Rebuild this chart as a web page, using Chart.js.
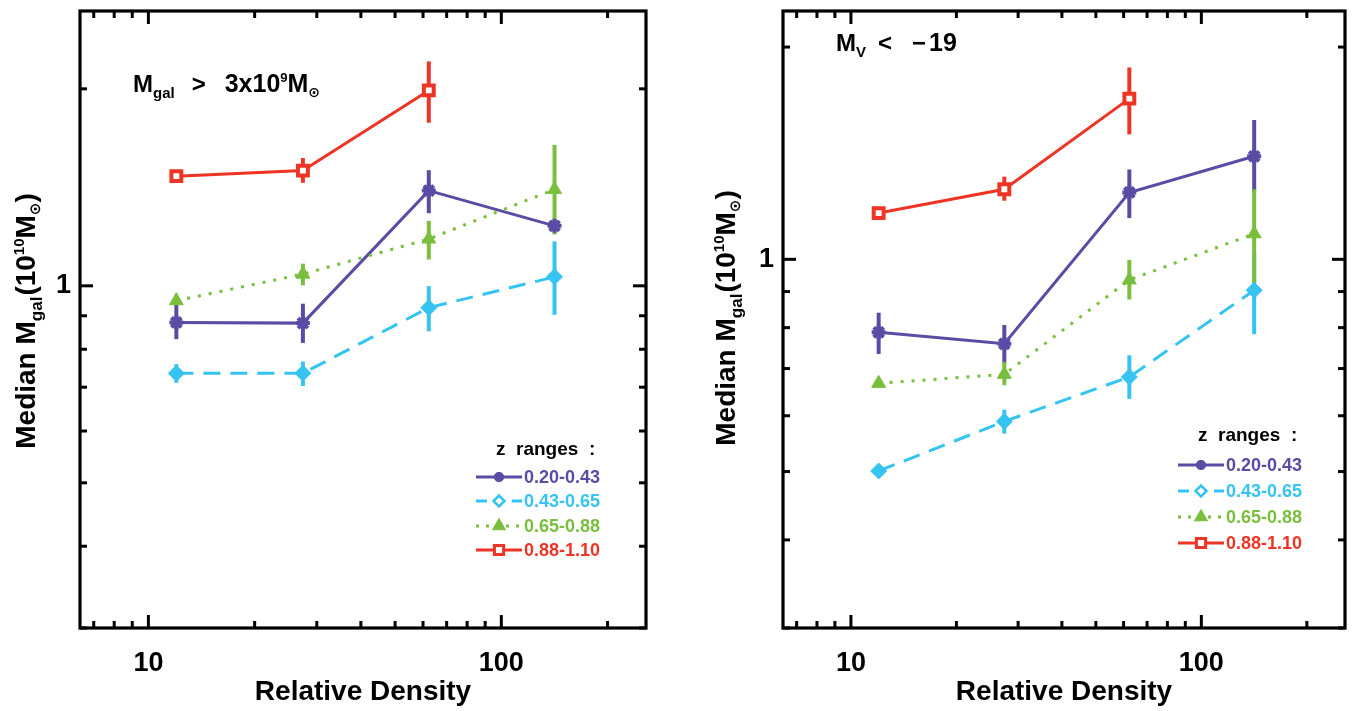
<!DOCTYPE html>
<html><head><meta charset="utf-8">
<script src="https://cdn.jsdelivr.net/npm/chart.js@4.4.1/dist/chart.umd.min.js"></script>
<style>
html,body{margin:0;padding:0;background:#fff;overflow:hidden;}
#wrap{position:relative;width:1356px;height:711px;background:#fff;}
.c{position:absolute;top:0;width:678px;height:711px;}
</style></head><body>
<div id="wrap">
<div class="c" style="left:0"><canvas id="cL" width="678" height="711"></canvas></div>
<div class="c" style="left:678px"><canvas id="cR" width="678" height="711"></canvas></div>
</div>
<script>
// ---------- data ----------
const densities = [12.0, 27.4, 62.3, 141.5];
const seriesNames = ['0.20-0.43', '0.43-0.65', '0.65-0.88', '0.88-1.10'];
const xMajorTicks = [10, 100];
const xMinorTicks = [7, 8, 9, 20, 30, 40, 50, 60, 70, 80, 90, 200];
const yMajorTicks = [1];
const yMinorTicks = [0.3, 0.4, 0.5, 0.6, 0.7, 0.8, 0.9, 2];

// Left panel: M_gal > 3x10^9 M_sun
const leftPurple   = [0.879, 0.877, 1.398, 1.235];
const leftPurpleLo = [0.829, 0.818, 1.291, 1.211];
const leftPurpleHi = [0.936, 0.939, 1.502, 1.259];
const leftCyan     = [0.735, 0.735, 0.926, 1.032];
const leftCyanLo   = [0.711, 0.703, 0.852, 0.903];
const leftCyanHi   = [0.759, 0.766, 0.999, 1.169];
const leftGreen    = [0.949, 1.042, 1.179, 1.404];
const leftGreenLo  = [0.935, 1.002, 1.097, 1.198];
const leftGreenHi  = [0.963, 1.081, 1.257, 1.642];
const leftRed      = [1.471, 1.500, 1.989, null];
const leftRedLo    = [1.450, 1.437, 1.775, null];
const leftRedHi    = [1.491, 1.568, 2.203, null];

// Right panel: M_V < -19
const rightPurple   = [0.788, 0.759, 1.244, 1.400];
const rightPurpleLo = [0.734, 0.711, 1.144, 1.245];
const rightPurpleHi = [0.840, 0.807, 1.341, 1.576];
const rightCyan     = [0.501, 0.589, 0.681, 0.904];
const rightCyanLo   = [0.491, 0.566, 0.634, 0.783];
const rightCyanHi   = [0.510, 0.612, 0.731, 1.020];
const rightGreen    = [0.667, 0.687, 0.935, 1.087];
const rightGreenLo  = [0.660, 0.663, 0.877, 0.926];
const rightGreenHi  = [0.676, 0.715, 0.998, 1.257];
const rightRed      = [1.163, 1.257, 1.690, null];
const rightRedLo    = [1.148, 1.211, 1.504, null];
const rightRedHi    = [1.178, 1.310, 1.871, null];

// ---------- styles ----------
const COLORS = ['#5a4ca4', '#35c3f1', '#79be3d', '#ee3424'];
const STYLES = [
  {dash: [], pointStyle: 'star', radius: 7, bw: 4, fill: '#5a4ca4'},
  {dash: [17, 10], pointStyle: 'rectRot', radius: 8, bw: 1, fill: '#35c3f1'},
  {dash: [3, 8], pointStyle: 'triangle', radius: 8, bw: 1, fill: '#79be3d'},
  {dash: [], pointStyle: 'rect', radius: 7, bw: 4, fill: '#ffffff'}
];
const LEG_STYLES = [
  {dash: [], pointStyle: 'star', radius: 5, bw: 3.5, fill: '#5a4ca4'},
  {dash: [11, 7], pointStyle: 'rectRot', radius: 5.5, bw: 2.5, fill: '#ffffff'},
  {dash: [3, 7], pointStyle: 'triangle', radius: 7.5, bw: 1, fill: '#79be3d'},
  {dash: [], pointStyle: 'rect', radius: 6.5, bw: 3, fill: '#ffffff'}
];
const FONT = '"Liberation Sans", Arial, "DejaVu Sans", sans-serif';

function pts(vals) {
  return densities.map((x, i) => ({x: x, y: vals[i]})).filter(p => p.y !== null);
}

function font(s) { return 'bold ' + s + 'px ' + FONT; }

// rich text: segments {t, s, dy, gap}
function richWidth(ctx, segs) {
  let w = 0;
  segs.forEach(g => { ctx.font = g.font || font(g.s); w += (g.gap || 0) + ctx.measureText(g.t).width; });
  return w;
}
function drawRich(ctx, segs, x, y, color) {
  let cx = x;
  ctx.fillStyle = color || '#000';
  ctx.textBaseline = 'alphabetic';
  ctx.textAlign = 'left';
  segs.forEach(g => {
    ctx.font = g.font || font(g.s);
    cx += (g.gap || 0);
    ctx.fillText(g.t, cx, y + (g.dy || 0));
    cx += ctx.measureText(g.t).width;
  });
}

function makePanel(canvasId, cfg) {
  const datasets = cfg.series.map((s, k) => ({
    label: seriesNames[k],
    data: pts(s.v),
    borderColor: COLORS[k],
    backgroundColor: STYLES[k].fill,
    pointBackgroundColor: STYLES[k].fill,
    pointBorderColor: COLORS[k],
    borderWidth: 3,
    borderDash: STYLES[k].dash,
    borderCapStyle: 'butt',
    pointStyle: STYLES[k].pointStyle,
    pointRadius: STYLES[k].radius,
    pointBorderWidth: STYLES[k].bw,
    tension: 0,
    fill: false,
    order: 4 - k
  }));

  const plugin = {
    id: 'idl' + canvasId,
    beforeDatasetsDraw(chart) {
      const ctx = chart.ctx, xs = chart.scales.x, ys = chart.scales.y;
      ctx.save();
      ctx.lineCap = 'butt';
      cfg.series.forEach((s, k) => {
        ctx.strokeStyle = COLORS[k];
        ctx.lineWidth = 4;
        densities.forEach((d, i) => {
          if (s.lo[i] === null) return;
          const px = xs.getPixelForValue(d);
          ctx.beginPath();
          ctx.moveTo(px, ys.getPixelForValue(s.lo[i]));
          ctx.lineTo(px, ys.getPixelForValue(s.hi[i]));
          ctx.stroke();
        });
      });
      ctx.restore();
    },
    afterDraw(chart) {
      const ctx = chart.ctx, a = chart.chartArea, xs = chart.scales.x, ys = chart.scales.y;
      ctx.save();
      // box
      ctx.strokeStyle = '#000';
      ctx.lineWidth = 3.2;
      ctx.lineCap = 'square';
      ctx.strokeRect(a.left, a.top, a.right - a.left, a.bottom - a.top);
      // ticks
      ctx.lineWidth = 3;
      ctx.lineCap = 'butt';
      const tickX = (v, len) => {
        const px = xs.getPixelForValue(v);
        ctx.beginPath(); ctx.moveTo(px, a.bottom); ctx.lineTo(px, a.bottom - len); ctx.stroke();
        ctx.beginPath(); ctx.moveTo(px, a.top); ctx.lineTo(px, a.top + len); ctx.stroke();
      };
      const tickY = (v, len) => {
        const py = ys.getPixelForValue(v);
        ctx.beginPath(); ctx.moveTo(a.left, py); ctx.lineTo(a.left + len, py); ctx.stroke();
        ctx.beginPath(); ctx.moveTo(a.right, py); ctx.lineTo(a.right - len, py); ctx.stroke();
      };
      xMajorTicks.forEach(v => tickX(v, 13));
      xMinorTicks.forEach(v => tickX(v, 7));
      yMajorTicks.forEach(v => tickY(v, 13));
      yMinorTicks.forEach(v => tickY(v, 7));
      // tick labels
      ctx.fillStyle = '#000';
      ctx.font = font(27);
      ctx.textAlign = 'center';
      ctx.textBaseline = 'middle';
      xMajorTicks.forEach(v => ctx.fillText(String(v), xs.getPixelForValue(v), 664));
      ctx.textAlign = 'right';
      yMajorTicks.forEach(v => ctx.fillText(String(v), a.left - 9, ys.getPixelForValue(v)));
      // x title
      ctx.textAlign = 'center';
      ctx.font = font(28);
      ctx.fillText('Relative Density', (a.left + a.right) / 2, 692);
      // y title (rotated)
      const ySegs = [
        {t: 'Median M', s: 28},
        {t: 'gal', s: 17, dy: 7},
        {t: '(10', s: 28, gap: 1},
        {t: '10', s: 15, dy: -11},
        {t: 'M', s: 28},
        {t: '\u2299', s: 15, dy: 5, font: 'bold 15px "DejaVu Sans", sans-serif'},
        {t: ')', s: 28}
      ];
      ctx.save();
      ctx.translate(cfg.yTitleX, cfg.yTitleY);
      ctx.rotate(-Math.PI / 2);
      const yw = richWidth(ctx, ySegs);
      drawRich(ctx, ySegs, -yw / 2, 0, '#000');
      ctx.restore();
      // panel title
      drawRich(ctx, cfg.titleSegs, cfg.titleX, cfg.titleY, '#000');
      // legend
      const L = cfg.legend;
      ctx.font = font(19);
      ctx.textAlign = 'left';
      ctx.textBaseline = 'middle';
      ctx.fillStyle = '#000';
      ctx.fillText('z  ranges  :', L.headX, L.headY);
      seriesNames.forEach((name, k) => {
        const y = L.rows[k];
        const st = LEG_STYLES[k];
        ctx.strokeStyle = COLORS[k];
        ctx.lineWidth = 3;
        ctx.lineCap = 'butt';
        ctx.setLineDash(st.dash);
        ctx.beginPath(); ctx.moveTo(L.x0, y); ctx.lineTo(L.x1, y); ctx.stroke();
        ctx.setLineDash([]);
        ctx.fillStyle = st.fill;
        ctx.strokeStyle = COLORS[k];
        ctx.lineWidth = st.bw;
        Chart.helpers.drawPoint(ctx, {
          pointStyle: st.pointStyle, radius: st.radius, borderWidth: st.bw, rotation: 0
        }, (L.x0 + L.x1) / 2, y);
        ctx.fillStyle = COLORS[k];
        ctx.font = font(18);
        ctx.textBaseline = 'middle';
        ctx.fillText(name, L.tx, y + 1);
      });
      ctx.restore();
    }
  };

  return new Chart(document.getElementById(canvasId), {
    type: 'line',
    data: {datasets: datasets},
    options: {
      responsive: false,
      animation: false,
      layout: {padding: cfg.padding},
      plugins: {legend: {display: false}, tooltip: {enabled: false}},
      scales: {
        x: {type: 'logarithmic', min: 6.4, max: 257, display: false},
        y: {type: 'logarithmic', min: 0.3, max: cfg.yMax, display: false}
      }
    },
    plugins: [plugin]
  });
}

makePanel('cL', {
  series: [
    {v: leftPurple, lo: leftPurpleLo, hi: leftPurpleHi},
    {v: leftCyan, lo: leftCyanLo, hi: leftCyanHi},
    {v: leftGreen, lo: leftGreenLo, hi: leftGreenHi},
    {v: leftRed, lo: leftRedLo, hi: leftRedHi}
  ],
  yMax: 2.63,
  padding: {left: 80, right: 32, top: 5, bottom: 83},
  yTitleX: 35, yTitleY: 321,
  titleX: 133, titleY: 92,
  titleSegs: [
    {t: 'M', s: 24},
    {t: 'gal', s: 15, dy: 6},
    {t: '>', s: 24, gap: 17},
    {t: '3x10', s: 25, gap: 19},
    {t: '9', s: 13, dy: -10},
    {t: 'M', s: 25},
    {t: '\u2299', s: 14, dy: 5, font: 'bold 14px "DejaVu Sans", sans-serif'}
  ],
  legend: {headX: 496, headY: 450, rows: [477, 501, 526, 550], x0: 476, x1: 522, tx: 524}
});

makePanel('cR', {
  series: [
    {v: rightPurple, lo: rightPurpleLo, hi: rightPurpleHi},
    {v: rightCyan, lo: rightCyanLo, hi: rightCyanHi},
    {v: rightGreen, lo: rightGreenLo, hi: rightGreenHi},
    {v: rightRed, lo: rightRedLo, hi: rightRedHi}
  ],
  yMax: 2.25,
  padding: {left: 105, right: 8, top: 5, bottom: 83},
  yTitleX: 57, yTitleY: 318,
  titleX: 158, titleY: 51,
  titleSegs: [
    {t: 'M', s: 24},
    {t: 'V', s: 15, dy: 6},
    {t: '<', s: 24, gap: 12},
    {t: '\u2212', s: 24, gap: 20},
    {t: '19', s: 25, gap: 3}
  ],
  legend: {headX: 520, headY: 436, rows: [465, 491, 517, 543], x0: 500, x1: 546, tx: 548}
});
</script>
</body></html>
